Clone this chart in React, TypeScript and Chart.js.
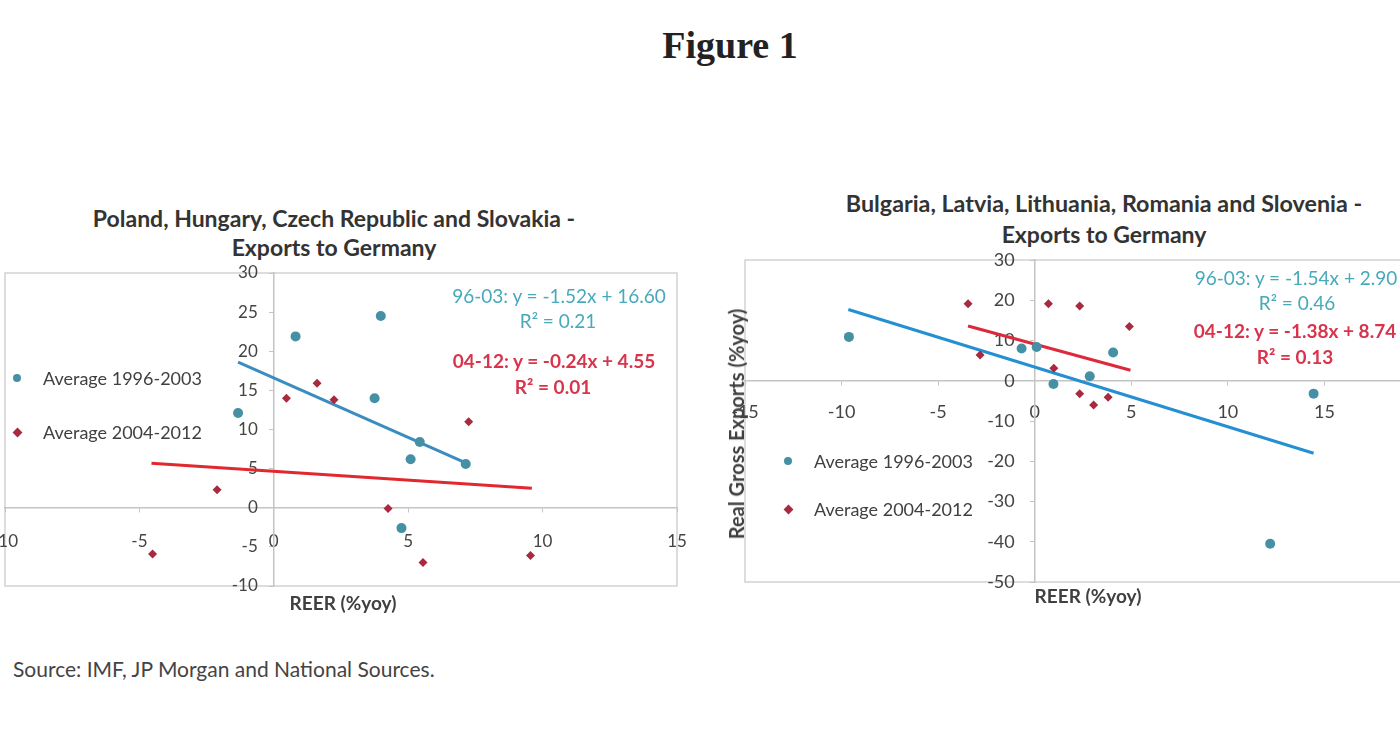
import React, { useEffect, useRef } from "react";
import { Chart, registerables } from "chart.js";

Chart.register(...registerables);

// ---------- Data: left panel (Poland, Hungary, Czech Republic, Slovakia) ----------
const leftBlueX = [0.81, -1.33, 3.98, 3.75, 5.43, 5.09, 7.14, 4.75];
const leftBlueY = [21.9, 12.1, 24.5, 14.0, 8.4, 6.2, 5.6, -2.6];
const leftRedX = [0.47, 1.61, 2.24, -2.11, -4.51, 7.25, 4.25, 5.55, 9.55];
const leftRedY = [14.0, 15.9, 13.8, 2.3, -5.9, 11.0, -0.1, -7.0, -6.1];
const leftBlueTrendX = [-1.33, 7.14];
const leftBlueTrendY = [18.6, 5.75];
const leftRedTrendX = [-4.55, 9.6];
const leftRedTrendY = [5.7, 2.5];
const leftXRange = [-10, 15, 5];
const leftYRange = [-10, 30, 5];

// ---------- Data: right panel (Bulgaria, Latvia, Lithuania, Romania, Slovenia) ----------
const rightBlueX = [-9.62, -0.68, 0.1, 0.97, 2.85, 4.06, 14.44, 12.19];
const rightBlueY = [10.9, 8.0, 8.4, -0.8, 1.1, 7.0, -3.2, -40.5];
const rightRedX = [-3.45, -2.83, 0.71, 0.99, 2.33, 4.9, 2.33, 3.05, 3.8];
const rightRedY = [19.1, 6.4, 19.1, 3.1, 18.6, 13.5, -3.2, -6.0, -4.1];
const rightBlueTrendX = [-9.65, 14.44];
const rightBlueTrendY = [17.7, -18.0];
const rightRedTrendX = [-3.45, 4.96];
const rightRedTrendY = [13.6, 2.6];
const rightXRange = [-15, 20, 5];
const rightYRange = [-50, 30, 10];

const seriesLabels = ["Average 1996-2003", "Average 2004-2012"];

const BLUE_PT = "#4690a6";
const RED_PT = "#a82a3e";
const TEAL_TXT = "#47a9ba";
const RED_TXT = "#d8344c";
const FONT = "Lato, 'Noto Sans', sans-serif";

const zip = (xs: number[], ys: number[]) => xs.map((x, i) => ({ x, y: ys[i] }));

const framePlugin = {
  id: "frame",
  beforeDraw(chart: any) {
    const { ctx, chartArea: a } = chart;
    ctx.save();
    ctx.strokeStyle = "#d2d2d2";
    ctx.lineWidth = 1.5;
    ctx.strokeRect(a.left, a.top, a.width, a.height);
    ctx.restore();
  },
};

// axes are drawn across the plot, so their edge labels must not shrink the plot area
const noEdgePadding = (scale: any) => {
  scale.paddingLeft = 0;
  scale.paddingRight = 0;
  scale.paddingTop = 0;
  scale.paddingBottom = 0;
};

// y tick labels of an axis placed at x = 0 get no padding from Chart.js; add a gap
const makeYLabelGap = (gap: number) => ({
  id: "yLabelGap",
  beforeDraw(chart: any) {
    const s = chart.scales.y;
    const items = s.getLabelItems(chart.chartArea);
    items.forEach((it: any) => {
      if (it._shifted) return;
      const t = it.options.translation;
      it.options.translation = [t[0] - gap, t[1]];
      it._shifted = true;
    });
  },
});

type PanelCfg = {
  blueX: number[]; blueY: number[]; redX: number[]; redY: number[];
  bTX: number[]; bTY: number[]; rTX: number[]; rTY: number[];
  xr: number[]; yr: number[];
  blueLine: string; redLine: string;
  tickSize: number; xPad: number; yGap: number;
  padding: { left: number; top: number; right: number; bottom: number };
};

function Panel({ cfg, style, width, height }: { cfg: PanelCfg; style: React.CSSProperties; width: number; height: number }) {
  const ref = useRef<HTMLCanvasElement | null>(null);
  useEffect(() => {
    if (!ref.current) return;
    const tickFont = { family: FONT, size: cfg.tickSize };
    const chart = new Chart(ref.current, {
      type: "scatter",
      data: {
        datasets: [
          {
            label: seriesLabels[0],
            data: zip(cfg.blueX, cfg.blueY),
            pointStyle: "circle",
            pointRadius: 5,
            backgroundColor: BLUE_PT,
            borderColor: BLUE_PT,
            borderWidth: 0,
          },
          {
            label: seriesLabels[1],
            data: zip(cfg.redX, cfg.redY),
            pointStyle: "rectRot",
            pointRadius: 4.5,
            backgroundColor: RED_PT,
            borderColor: RED_PT,
            borderWidth: 0,
          },
          {
            label: "trend 96-03",
            data: zip(cfg.bTX, cfg.bTY),
            showLine: true,
            pointRadius: 0,
            borderColor: cfg.blueLine,
            borderWidth: 3,
            fill: false,
          },
          {
            label: "trend 04-12",
            data: zip(cfg.rTX, cfg.rTY),
            showLine: true,
            pointRadius: 0,
            borderColor: cfg.redLine,
            borderWidth: 3,
            fill: false,
          },
        ],
      } as any,
      options: {
        animation: false,
        responsive: false,
        layout: { padding: cfg.padding },
        plugins: { legend: { display: false }, title: { display: false }, tooltip: { enabled: false } },
        scales: {
          x: {
            type: "linear",
            min: cfg.xr[0],
            max: cfg.xr[1],
            position: { y: 0 } as any,
            afterFit: noEdgePadding,
            ticks: { stepSize: cfg.xr[2], autoSkip: false, maxRotation: 0, padding: cfg.xPad, color: "#444", font: tickFont },
            grid: { drawOnChartArea: false, drawTicks: true, tickLength: 4, color: "#c4c4c4" },
            border: { display: true, color: "#c4c4c4", width: 1.5 },
          },
          y: {
            type: "linear",
            min: cfg.yr[0],
            max: cfg.yr[1],
            position: { x: 0 } as any,
            afterFit: noEdgePadding,
            ticks: { stepSize: cfg.yr[2], autoSkip: false, color: "#444", font: tickFont },
            grid: { drawOnChartArea: false, drawTicks: true, tickLength: 4, color: "#c4c4c4" },
            border: { display: true, color: "#c4c4c4", width: 1.5 },
          },
        },
      } as any,
      plugins: [framePlugin, makeYLabelGap(cfg.yGap)],
    });
    return () => chart.destroy();
  }, []);
  return <canvas ref={ref} width={width} height={height} style={{ position: "absolute", ...style }} />;
}

function Txt({ x, y, children, anchor = "center", style }: { x: number; y: number; children: React.ReactNode; anchor?: "center" | "left"; style?: React.CSSProperties }) {
  return (
    <div
      style={{
        position: "absolute",
        left: x,
        top: y,
        transform: anchor === "center" ? "translate(-50%, -50%)" : "translate(0, -50%)",
        whiteSpace: "nowrap",
        lineHeight: 1,
        fontFamily: FONT,
        color: "#404040",
        zIndex: 2,
        ...style,
      }}
    >
      {children}
    </div>
  );
}

function LegendItem({ x, y, kind, text }: { x: number; y: number; kind: "dot" | "diamond"; text: string }) {
  const marker =
    kind === "dot" ? (
      <div style={{ position: "absolute", left: x - 4, top: y - 4, width: 8, height: 8, borderRadius: "50%", background: BLUE_PT, zIndex: 2 }} />
    ) : (
      <div style={{ position: "absolute", left: x - 3.5, top: y - 3.5, width: 7, height: 7, transform: "rotate(45deg)", background: RED_PT, zIndex: 2 }} />
    );
  return (
    <>
      {marker}
      <Txt x={x + 26} y={y} anchor="left" style={{ fontSize: 18 }}>
        {text}
      </Txt>
    </>
  );
}

const leftCfg: PanelCfg = {
  blueX: leftBlueX, blueY: leftBlueY, redX: leftRedX, redY: leftRedY,
  bTX: leftBlueTrendX, bTY: leftBlueTrendY, rTX: leftRedTrendX, rTY: leftRedTrendY,
  xr: leftXRange, yr: leftYRange,
  blueLine: "#3b8dbf", redLine: "#e0282f",
  tickSize: 17, xPad: 20, yGap: 16,
  padding: { left: 5, top: 10, right: 23, bottom: 17 },
};

const rightCfg: PanelCfg = {
  blueX: rightBlueX, blueY: rightBlueY, redX: rightRedX, redY: rightRedY,
  bTX: rightBlueTrendX, bTY: rightBlueTrendY, rTX: rightRedTrendX, rTY: rightRedTrendY,
  xr: rightXRange, yr: rightYRange,
  blueLine: "#2490d2", redLine: "#dc2a3c",
  tickSize: 18, xPad: 17, yGap: 20,
  padding: { left: 15, top: 10, right: 29, bottom: 13 },
};

export default function App() {
  const titleStyle: React.CSSProperties = { fontSize: 23, fontWeight: 700, color: "#333" };
  const axisTitle: React.CSSProperties = { fontSize: 19, fontWeight: 700, color: "#404040" };
  return (
    <div style={{ position: "fixed", left: 0, top: 0, width: 1400, height: 735, overflow: "hidden", background: "#fff" }}>
      <Txt x={730} y={45} style={{ fontFamily: "'Liberation Serif', 'Times New Roman', serif", fontWeight: 700, fontSize: 38, color: "#222" }}>
        Figure 1
      </Txt>

      {/* Left panel */}
      <Panel cfg={leftCfg} width={700} height={340} style={{ left: 0, top: 263 }} />
      <Txt x={334} y={218} style={titleStyle}>Poland, Hungary, Czech Republic and Slovakia -</Txt>
      <Txt x={334} y={247} style={titleStyle}>Exports to Germany</Txt>
      <LegendItem x={17} y={378} kind="dot" text={seriesLabels[0]} />
      <LegendItem x={17} y={432} kind="diamond" text={seriesLabels[1]} />
      <Txt x={559} y={295} style={{ fontSize: 19, color: TEAL_TXT }}>96-03: y = -1.52x + 16.60</Txt>
      <Txt x={558} y={320} style={{ fontSize: 19, color: TEAL_TXT }}>R² = 0.21</Txt>
      <Txt x={554} y={360} style={{ fontSize: 19, color: RED_TXT, fontWeight: 700 }}>04-12: y = -0.24x + 4.55</Txt>
      <Txt x={553} y={386} style={{ fontSize: 19, color: RED_TXT, fontWeight: 700 }}>R² = 0.01</Txt>
      <Txt x={343} y={602} style={axisTitle}>REER (%yoy)</Txt>

      {/* Right panel */}
      <Panel cfg={rightCfg} width={720} height={345} style={{ left: 730, top: 250 }} />
      <Txt x={1104} y={204} style={{ ...titleStyle, fontSize: 23.3 }}>Bulgaria, Latvia, Lithuania, Romania and Slovenia -</Txt>
      <Txt x={1104} y={234} style={titleStyle}>Exports to Germany</Txt>
      <Txt x={736} y={424} style={{ ...axisTitle, fontSize: 20, transform: "translate(-50%, -50%) rotate(-90deg)" }}>Real Gross Exports (%yoy)</Txt>
      <LegendItem x={788} y={461} kind="dot" text={seriesLabels[0]} />
      <LegendItem x={788} y={509} kind="diamond" text={seriesLabels[1]} />
      <Txt x={1296} y={277} style={{ fontSize: 19, color: TEAL_TXT }}>96-03: y = -1.54x + 2.90</Txt>
      <Txt x={1297} y={302} style={{ fontSize: 19, color: TEAL_TXT }}>R² = 0.46</Txt>
      <Txt x={1295} y={330} style={{ fontSize: 19, color: RED_TXT, fontWeight: 700 }}>04-12: y = -1.38x + 8.74</Txt>
      <Txt x={1295} y={356} style={{ fontSize: 19, color: RED_TXT, fontWeight: 700 }}>R² = 0.13</Txt>
      <Txt x={1088} y={595} style={axisTitle}>REER (%yoy)</Txt>

      <Txt x={13} y={668} anchor="left" style={{ fontSize: 21, color: "#444" }}>
        Source: IMF, JP Morgan and National Sources.
      </Txt>
    </div>
  );
}
